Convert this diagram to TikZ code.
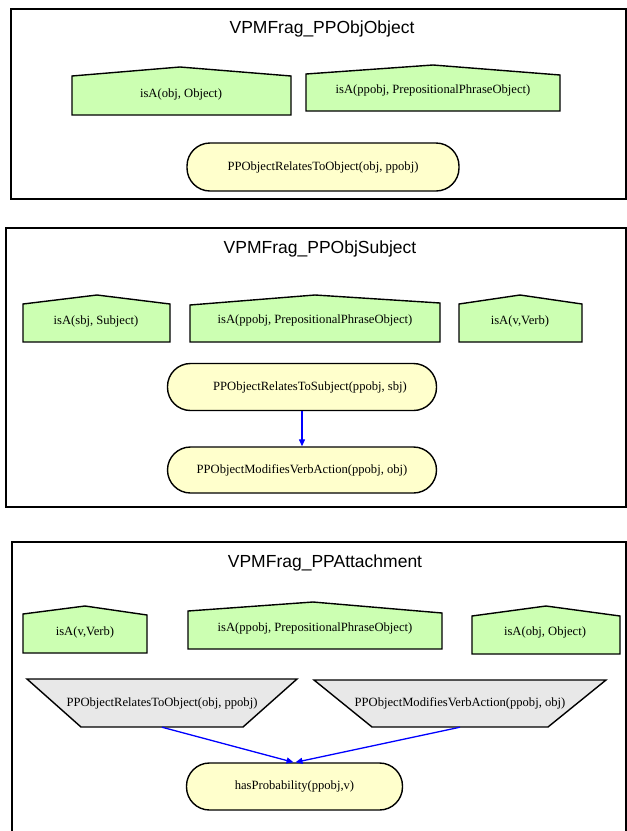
\documentclass[tikz,border=0pt]{standalone}
\usepackage{fontspec}
\setmainfont{Liberation Serif}
\newfontfamily\titlefont{Liberation Sans}
\usetikzlibrary{arrows.meta}

\definecolor{isafill}{RGB}{204,255,178}
\definecolor{relfill}{RGB}{255,255,204}
\definecolor{trapfill}{RGB}{232,232,232}

\tikzset{
  x=1pt, y=-1pt,
  cluster/.style={draw=black, line width=1.3pt},
  ctitle/.style={font=\titlefont\fontsize{17.5}{20}\selectfont, inner sep=0pt},
  housebox/.style={draw=black, line width=1.4pt, fill=isafill, line join=miter},
  trapbox/.style={draw=black, line width=1.4pt, fill=trapfill},
  label/.style={font=\fontsize{12.6}{14}\selectfont, inner sep=0pt},
  relnode/.style={draw=black, line width=1.4pt, fill=relfill, rectangle,
    rounded corners=23pt, inner sep=0pt, font=\fontsize{12.6}{14}\selectfont},
  link/.style={draw=blue, line width=1.3pt,
    -{Triangle[length=7pt, width=6pt]}},
}

% house outline: left, right, left wall top, right wall top, apex x, apex y, bottom
\newcommand{\houseshape}[7]{%
  \path[housebox] (#1,#7) -- (#1,#3) -- (#5,#6) -- (#2,#4) -- (#2,#7) -- cycle;}

\begin{document}
\begin{tikzpicture}
\clip (0,0) rectangle (627,831);

% ---------- cluster: VPMFrag_PPObjObject ----------
\draw[cluster] (11,9) rectangle (626,199);
\node[ctitle] (t1) at (322,29) {VPMFrag\_PPObjObject};

\houseshape{72}{291}{76}{76}{180}{67}{115}
\node[label] (a1) at (181,94) {isA(obj, Object)};
\houseshape{306}{560}{74}{75}{433}{65}{111}
\node[label] (a2) at (433,90) {isA(ppobj, PrepositionalPhraseObject)};

\node[relnode, minimum width=272pt, minimum height=48pt] (r1) at (323,167)
  {PPObjectRelatesToObject(obj, ppobj)};

% ---------- cluster: VPMFrag_PPObjSubject ----------
\draw[cluster] (6,228) rectangle (626,507);
\node[ctitle] (t2) at (320,249) {VPMFrag\_PPObjSubject};

\houseshape{23}{170}{304}{304}{97}{295}{342}
\node[label] (b1) at (96,321) {isA(sbj, Subject)};
\houseshape{190}{440}{305}{303}{315}{295}{342}
\node[label] (b2) at (315,320) {isA(ppobj, PrepositionalPhraseObject)};
\houseshape{459}{582}{304}{304}{520}{295}{342}
\node[label] (b3) at (520,321) {isA(v,Verb)};

\node[relnode, minimum width=269pt, minimum height=47pt] (s1) at (302,387)
  {\hspace*{16pt}PPObjectRelatesToSubject(ppobj, sbj)};
\node[relnode, minimum width=269pt, minimum height=46pt] (s2) at (302,470)
  {PPObjectModifiesVerbAction(ppobj, obj)};
\draw[link] (s1.south) -- (s2.north);

% ---------- cluster: VPMFrag_PPAttachment ----------
\draw[cluster] (12,542) rectangle (626,850);
\node[ctitle] (t3) at (325,563) {VPMFrag\_PPAttachment};

\houseshape{23}{147}{614}{615}{85}{606}{653}
\node[label] (c1) at (85,632) {isA(v,Verb)};
\houseshape{188}{442}{611}{613}{313}{602}{649}
\node[label] (c2) at (315,628) {isA(ppobj, PrepositionalPhraseObject)};
\houseshape{472}{620}{616}{616}{546}{606}{654}
\node[label] (c3) at (545,632) {isA(obj, Object)};

% inverted trapezia
\path[trapbox] (27,679) -- (297,679) -- (243,727) -- (81,727) -- cycle;
\node[label, minimum height=48pt] (p1) at (162,703)
  {PPObjectRelatesToObject(obj, ppobj)};
\path[trapbox] (314,680) -- (606,680) -- (548,727) -- (372,727) -- cycle;
\node[label, minimum height=47pt] (p2) at (460,703.5)
  {PPObjectModifiesVerbAction(ppobj, obj)};

\node[relnode, minimum width=216pt, minimum height=47pt] (h1) at (294.5,786.5)
  {hasProbability(ppobj,v)};

\draw[link] (p1.south) -- ([xshift=-1pt]h1.north);
\draw[link] (p2.south) -- ([xshift=1pt]h1.north);
\end{tikzpicture}
\end{document}
